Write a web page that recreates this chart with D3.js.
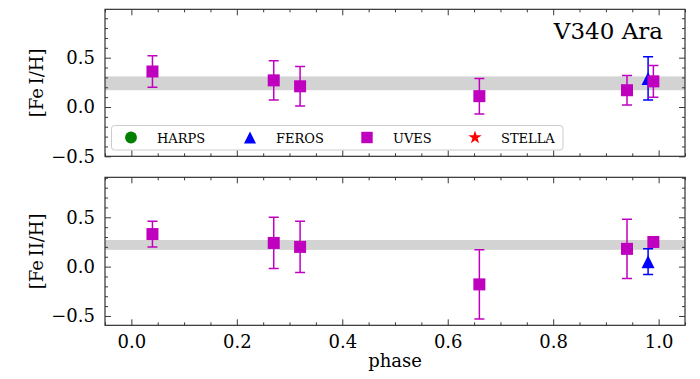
<!DOCTYPE html>
<html>
<head>
<meta charset="utf-8">
<script src="https://cdn.jsdelivr.net/npm/d3@7"></script>
<style>
  body { margin: 0; background: #fff; }
  svg text { font-family: "DejaVu Serif", serif; fill: #000; }
</style>
</head>
<body>
<div id="chart-area"></div>
<script>
// data
let phaseUves = [0.04, 0.27, 0.32, 0.66, 0.94, 0.99];
let fe1Uves = [0.36, 0.27, 0.21, 0.11, 0.17, 0.26];
let fe1UvesErr = [0.16, 0.20, 0.20, 0.18, 0.15, 0.16];
let fe2Uves = [0.33, 0.24, 0.20, -0.18, 0.18, 0.25];
let fe2UvesErr = [0.13, 0.26, 0.26, 0.35, 0.30, 0.03];

let phaseFeros = [0.98];
let fe1Feros = [0.29];
let fe1FerosErr = [0.22];
let fe2Feros = [0.05];
let fe2FerosErr = [0.13];

let bandMean = [0.24, 0.22];
let bandSd = [0.07, 0.05];

let legendNames = ["HARPS", "FEROS", "UVES", "STELLA"];
let legendColors = ["#008000", "#0000ff", "#bf00bf", "#ff0000"];

let width = 700, height = 379;
let left = 105, right = 685;

let svg = d3.select("#chart-area").append("svg")
    .attr("width", width)
    .attr("height", height);

let x = d3.scaleLinear().domain([-0.05, 1.05]).range([left, right]);

let panels = [
  {top: 9.33, bottom: 156.33, domain: [-0.5, 0.99], label: "[Fe\u2009I/H]",
   uv: fe1Uves, uvErr: fe1UvesErr, fe: fe1Feros, feErr: fe1FerosErr, showX: false},
  {top: 177.33, bottom: 325.33, domain: [-0.595, 0.905], label: "[Fe\u2009II/H]",
   uv: fe2Uves, uvErr: fe2UvesErr, fe: fe2Feros, feErr: fe2FerosErr, showX: true}
];

function triPath(h) {
  return "M0," + (-h) + "L" + h + "," + h + "L" + (-h) + "," + h + "Z";
}

panels.forEach((p, i) => {
  let y = d3.scaleLinear().domain(p.domain).range([p.bottom, p.top]);
  let g = svg.append("g");

  // clip
  let clipId = "clip" + i;
  svg.append("clipPath").attr("id", clipId).append("rect")
    .attr("x", left).attr("y", p.top).attr("width", right - left).attr("height", p.bottom - p.top);

  let plot = g.append("g").attr("clip-path", "url(#" + clipId + ")");

  // mean band
  plot.append("rect")
    .attr("x", left).attr("width", right - left)
    .attr("y", y(bandMean[i] + bandSd[i]))
    .attr("height", y(bandMean[i] - bandSd[i]) - y(bandMean[i] + bandSd[i]))
    .attr("fill", "#d3d3d3");

  // error bars
  function errBars(xs, vs, es, color) {
    let eb = plot.append("g").attr("stroke", color).attr("stroke-width", 1.5).attr("fill", "none");
    xs.forEach((ph, k) => {
      let cx = x(ph);
      eb.append("line").attr("x1", cx).attr("x2", cx)
        .attr("y1", y(vs[k] - es[k])).attr("y2", y(vs[k] + es[k]));
      [vs[k] - es[k], vs[k] + es[k]].forEach(v => {
        eb.append("line").attr("x1", cx - 5).attr("x2", cx + 5)
          .attr("y1", y(v)).attr("y2", y(v));
      });
    });
  }

  errBars(phaseFeros, p.fe, p.feErr, legendColors[1]);
  plot.selectAll(".tri").data(phaseFeros).enter().append("path")
    .attr("d", triPath(6.5))
    .attr("transform", (d, k) => "translate(" + x(d) + "," + y(p.fe[k]) + ")")
    .attr("fill", legendColors[1]);

  errBars(phaseUves, p.uv, p.uvErr, legendColors[2]);
  plot.selectAll(".sq").data(phaseUves).enter().append("rect")
    .attr("x", d => x(d) - 6)
    .attr("y", (d, k) => y(p.uv[k]) - 6)
    .attr("width", 12).attr("height", 12)
    .attr("fill", legendColors[2]);

  // axes, ticks inward on all sides
  let yMajor = [-0.5, 0, 0.5, 1.0].filter(v => v >= p.domain[0] && v <= p.domain[1]);
  let yMinor = d3.range(-0.6, 1.01, 0.1).map(v => Math.round(v * 10) / 10)
      .filter(v => v >= p.domain[0] && v <= p.domain[1] && yMajor.indexOf(v) < 0);
  let xMajor = [0, 0.2, 0.4, 0.6, 0.8, 1.0];
  let xMinor = d3.range(-0.05, 1.06, 0.05).map(v => Math.round(v * 100) / 100)
      .filter(v => xMajor.indexOf(v) < 0);

  let fmt = d => d3.format(".1f")(d).replace("-", "\u2212");

  let yl = g.append("g").attr("transform", "translate(" + left + ",0)")
    .call(d3.axisLeft(y).tickValues(yMajor).tickSizeInner(-6).tickSizeOuter(0).tickPadding(10).tickFormat(fmt));
  g.append("g").attr("transform", "translate(" + left + ",0)")
    .call(d3.axisLeft(y).tickValues(yMinor).tickSizeInner(-3).tickSizeOuter(0).tickFormat(""));
  g.append("g").attr("transform", "translate(" + right + ",0)")
    .call(d3.axisRight(y).tickValues(yMajor).tickSizeInner(-6).tickSizeOuter(0).tickFormat(""));
  g.append("g").attr("transform", "translate(" + right + ",0)")
    .call(d3.axisRight(y).tickValues(yMinor).tickSizeInner(-3).tickSizeOuter(0).tickFormat(""));

  let xb = g.append("g").attr("transform", "translate(0," + p.bottom + ")")
    .call(d3.axisBottom(x).tickValues(xMajor).tickSizeInner(-6).tickSizeOuter(0).tickPadding(10)
      .tickFormat(p.showX ? d3.format(".1f") : ""));
  g.append("g").attr("transform", "translate(0," + p.bottom + ")")
    .call(d3.axisBottom(x).tickValues(xMinor).tickSizeInner(-3).tickSizeOuter(0).tickFormat(""));
  g.append("g").attr("transform", "translate(0," + p.top + ")")
    .call(d3.axisTop(x).tickValues(xMajor).tickSizeInner(-6).tickSizeOuter(0).tickFormat(""));
  g.append("g").attr("transform", "translate(0," + p.top + ")")
    .call(d3.axisTop(x).tickValues(xMinor).tickSizeInner(-3).tickSizeOuter(0).tickFormat(""));

  g.selectAll(".domain").remove();
  g.selectAll(".tick line").attr("stroke", "#222").attr("stroke-width", 0.9);
  g.selectAll(".tick text").attr("font-family", "DejaVu Serif").attr("font-size", 18).attr("fill", "#000");

  // frame
  g.append("rect")
    .attr("x", left).attr("y", p.top)
    .attr("width", right - left).attr("height", p.bottom - p.top)
    .attr("fill", "none").attr("stroke", "#333").attr("stroke-width", 1.2);

  // y label
  g.append("text")
    .attr("transform", "translate(43," + ((p.top + p.bottom) / 2) + ") rotate(-90)")
    .attr("text-anchor", "middle")
    .attr("font-size", 18)
    .text(p.label);
});

// x label
svg.append("text")
  .attr("x", x(0.5)).attr("y", 367)
  .attr("text-anchor", "middle")
  .attr("font-size", 18)
  .text("phase");

// star name
svg.append("text")
  .attr("x", 663).attr("y", 39)
  .attr("text-anchor", "end")
  .attr("font-size", 23)
  .text("V340 Ara");

// legend
let leg = svg.append("g");
leg.append("rect")
  .attr("x", 111.5).attr("y", 125.5).attr("width", 451.5).attr("height", 24.5)
  .attr("rx", 3)
  .attr("fill", "#fff").attr("fill-opacity", 0.8)
  .attr("stroke", "#ccc").attr("stroke-width", 1);

let legX = [131, 250, 367, 475];
let legY = 137.5;
let shapes = [
  d3.symbol().type(d3.symbolCircle).size(110)(),
  triPath(6),
  d3.symbol().type(d3.symbolSquare).size(130)(),
  d3.symbol().type(d3.symbolStar).size(55)()
];
legendNames.forEach((n, k) => {
  leg.append("path")
    .attr("d", shapes[k])
    .attr("transform", "translate(" + legX[k] + "," + legY + ")")
    .attr("fill", legendColors[k]);
  leg.append("text")
    .attr("x", legX[k] + 26).attr("y", legY + 5)
    .attr("font-size", 13)
    .text(n);
});
</script>
</body>
</html>
